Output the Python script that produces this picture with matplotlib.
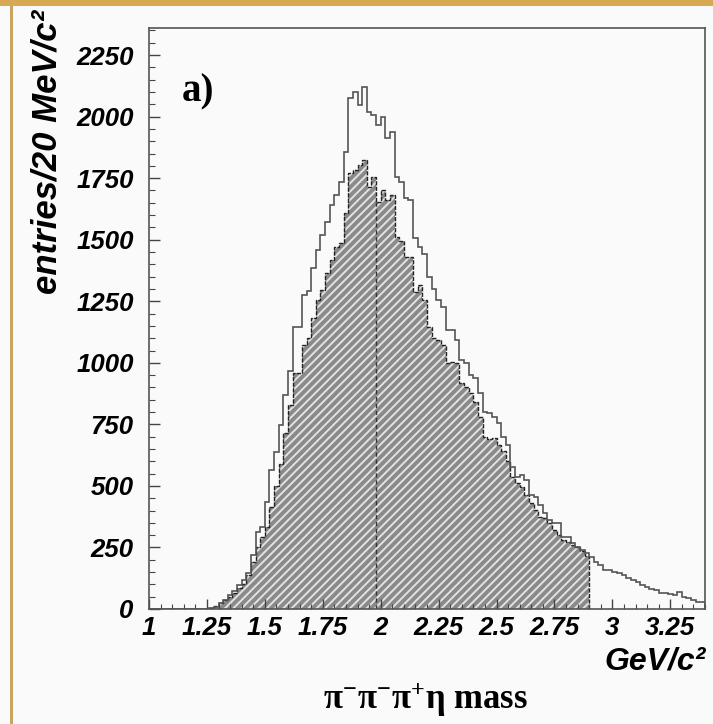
import numpy as np
import matplotlib.pyplot as plt
from matplotlib.patches import Rectangle
from matplotlib.ticker import MultipleLocator

# histogram binning (20 MeV bins)
x_start = 1.0
bin_width = 0.02

# all events, 1.00 - 3.40 GeV
all_counts = [0, 0, 0, 0, 0, 0, 0, 0, 0, 0, 0, 1, 2,
              5, 10, 23, 35, 57, 75, 97, 118, 145, 219, 314, 334, 436, 565, 639, 747, 870,
              965, 1147, 1147, 1275, 1290, 1384, 1458, 1519, 1573, 1641, 1682, 1736, 1858,
              2074, 2101, 2047, 2121, 2020, 2006, 1966, 2000, 1912, 1939, 1756, 1736, 1668,
              1661, 1506, 1472, 1440, 1350, 1300, 1255, 1228, 1133, 1133, 1093, 1011, 998,
              950, 940, 876, 801, 795, 781, 754, 700, 666, 578, 537, 544, 524, 463, 456,
              422, 390, 361, 348, 348, 294, 294, 267, 253, 240, 226, 212, 192, 179, 158,
              158, 150, 145, 138, 125, 118, 111, 97, 91, 80, 77, 64, 66, 60, 57, 70, 50,
              43, 37, 30, 30]

# selected events (hatched), 1.00 - 2.90 GeV
sel_counts = [0, 0, 0, 0, 0, 0, 0, 0, 0, 0, 0, 1, 2,
              5, 12, 23, 38, 50, 64, 84, 102, 138, 190, 250, 294, 334, 416, 500, 590, 714,
              830, 957, 957, 1072, 1100, 1181, 1255, 1296, 1364, 1418, 1472, 1485, 1607,
              1770, 1783, 1803, 1824, 1715, 1756, 1654, 1700, 1662, 1682, 1510, 1495, 1431,
              1431, 1289, 1316, 1255, 1147, 1100, 1093, 1072, 998, 1004, 1000, 917, 900,
              876, 842, 781, 697, 690, 693, 666, 640, 600, 537, 510, 497, 463, 429, 402,
              375, 368, 348, 320, 300, 280, 273, 260, 250, 235, 215]

cut_mass = 1.98

x_ticks = [1, 1.25, 1.5, 1.75, 2, 2.25, 2.5, 2.75, 3, 3.25]
x_tick_labels = ['1', '1.25', '1.5', '1.75', '2', '2.25', '2.5', '2.75', '3', '3.25']
y_ticks = [0, 250, 500, 750, 1000, 1250, 1500, 1750, 2000, 2250]

all_edges = x_start + bin_width * np.arange(len(all_counts) + 1)
sel_edges = x_start + bin_width * np.arange(len(sel_counts) + 1)

plt.rcParams['hatch.linewidth'] = 1.4
plt.rcParams['mathtext.fontset'] = 'custom'
plt.rcParams['mathtext.rm'] = 'Liberation Serif:bold'
plt.rcParams['mathtext.it'] = 'Liberation Serif:bold'
plt.rcParams['mathtext.default'] = 'rm'

bg = '#fafafa'
fig = plt.figure(figsize=(7.13, 7.24), dpi=100, facecolor=bg)

# slide decoration: golden band on top, thin line on left
fig.patches.append(Rectangle((0, 1 - 6 / 724), 1, 6 / 724, transform=fig.transFigure,
                             facecolor='#d6aa52', edgecolor='none'))
fig.patches.append(Rectangle((10 / 713, 0), 2.5 / 713, 1 - 6 / 724, transform=fig.transFigure,
                             facecolor='#c9a462', edgecolor='none'))

ax = fig.add_axes([149 / 713, 1 - 609 / 724, 556 / 713, 581 / 724])
ax.set_facecolor(bg)

# hatched histogram
ax.stairs(sel_counts, sel_edges, fill=True, facecolor='#8a8a8a', edgecolor='#e2e2e2',
          hatch='////', linewidth=0)
ax.stairs(sel_counts, sel_edges, color='#222222', linewidth=1.0, linestyle=(0, (3, 1)))

# open histogram
ax.stairs(all_counts, all_edges, color='#555555', linewidth=1.2)

# dashed line at cut
cut_bin = int(round((cut_mass - x_start) / bin_width))
ax.vlines(cut_mass, 0, sel_counts[cut_bin], colors='#333333', linestyles=(0, (3, 2)),
          linewidth=1.0)

ax.set_xlim(1.0, 3.4)
ax.set_ylim(0, 2360)

ax.set_xticks(x_ticks)
ax.set_xticklabels(x_tick_labels)
ax.set_yticks(y_ticks)
ax.xaxis.set_minor_locator(MultipleLocator(0.05))
ax.yaxis.set_minor_locator(MultipleLocator(50))

tick_font = dict(family='Liberation Sans', weight='bold', style='italic', size=18.5)
for lab in ax.get_xticklabels() + ax.get_yticklabels():
    lab.set(**tick_font)

ax.tick_params(axis='both', which='both', direction='in', colors='#444444',
               labelcolor='black')
ax.tick_params(axis='x', which='major', length=7, width=1, pad=5)
ax.tick_params(axis='x', which='minor', length=3.5, width=0.8)
ax.tick_params(axis='y', which='major', length=8, width=1, pad=11)
ax.tick_params(axis='y', which='minor', length=4, width=0.8)

for s in ax.spines.values():
    s.set_color('#555555')
    s.set_linewidth(1.2)

ax.text(1.14, 2100, 'a)', family='Liberation Serif', weight='bold', size=28,
        ha='left', va='center')

fig.text(47 / 713, 1 - 10 / 724, 'entries/20 MeV/c²', family='Liberation Sans',
         weight='bold', style='italic', size=25, rotation=90, ha='center', va='top')
fig.text(706 / 713, 1 - 662 / 724, 'GeV/c²', family='Liberation Sans',
         weight='bold', style='italic', size=23, ha='right', va='center')
fig.text(426 / 713, 1 - 700 / 724, r'$\pi^{-}\pi^{-}\pi^{+}\eta$ mass',
         family='Liberation Serif', weight='bold', size=25, ha='center', va='center')

fig.savefig('out.png', dpi=100, facecolor=bg)
